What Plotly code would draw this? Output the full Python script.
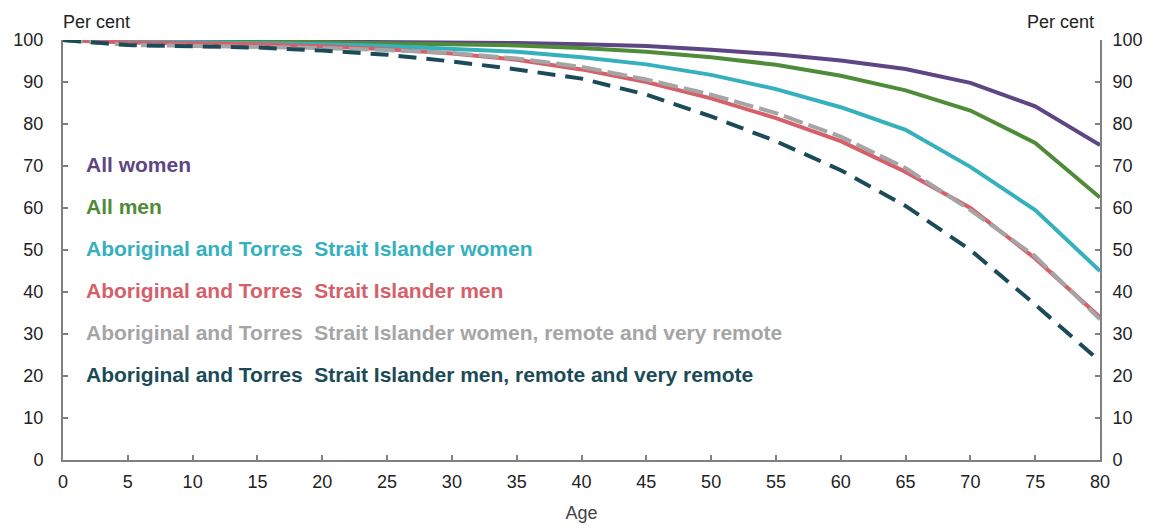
import plotly.graph_objects as go

ages = [0, 5, 10, 15, 20, 25, 30, 35, 40, 45, 50, 55, 60, 65, 70, 75, 80]

all_women = [100, 99.9, 99.9, 99.8, 99.7, 99.6, 99.5, 99.3, 99.0, 98.6, 97.7, 96.6, 95.1, 93.1, 89.8, 84.2, 75.0]
all_men = [100, 99.8, 99.8, 99.7, 99.5, 99.3, 99.1, 98.7, 98.1, 97.2, 95.9, 94.1, 91.5, 88.0, 83.2, 75.5, 62.5]
atsi_women = [100, 99.6, 99.5, 99.3, 99.0, 98.6, 98.0, 97.2, 95.9, 94.2, 91.7, 88.3, 84.0, 78.6, 69.8, 59.5, 45.0]
atsi_men = [100, 99.4, 99.2, 99.0, 98.5, 97.8, 96.8, 95.3, 93.0, 90.0, 86.1, 81.4, 75.9, 68.6, 60.0, 48.0, 34.0]
atsi_women_remote = [100, 98.8, 98.6, 98.4, 98.1, 97.6, 96.9, 95.6, 93.6, 90.6, 87.0, 82.6, 77.0, 69.5, 59.5, 48.5, 33.5]
atsi_men_remote = [100, 98.8, 98.5, 98.2, 97.5, 96.5, 94.9, 93.0, 90.8, 87.0, 81.8, 75.9, 69.0, 60.5, 50.0, 37.0, 23.5]

series_names = [
    "All women",
    "All men",
    "Aboriginal and Torres  Strait Islander women",
    "Aboriginal and Torres  Strait Islander men",
    "Aboriginal and Torres  Strait Islander women, remote and very remote",
    "Aboriginal and Torres  Strait Islander men, remote and very remote",
]
series_values = [all_women, all_men, atsi_women, atsi_men, atsi_women_remote, atsi_men_remote]
colors = ["#5E4685", "#4F8C3A", "#35B0BD", "#D5606A", "#A5A5A5", "#1B4B58"]
dashes = ["solid", "solid", "solid", "solid", "20px,6px", "18px,10px"]
label_y = [70, 60, 50, 40, 30, 20]

fig = go.Figure()
for name, vals, col, dash in zip(series_names, series_values, colors, dashes):
    fig.add_trace(go.Scatter(x=ages, y=vals, mode="lines", name=name,
                             line=dict(color=col, width=4, dash=dash),
                             showlegend=False))
# invisible trace for right axis
fig.add_trace(go.Scatter(x=ages, y=all_women, yaxis="y2", mode="lines",
                         line=dict(width=0), opacity=0, showlegend=False,
                         hoverinfo="skip"))

for name, col, ly in zip(series_names, colors, label_y):
    fig.add_annotation(x=0, y=ly + 0.3, xref="x", yref="y", xshift=21,
                       text="<b>" + name + "</b>", showarrow=False,
                       xanchor="left", yanchor="middle",
                       font=dict(family="Liberation Sans, Arial", size=21, color=col))

txt_font = dict(family="Liberation Sans, Arial", size=18, color="#222")
fig.add_annotation(x=0, y=1, xref="paper", yref="paper", text="Per cent",
                   showarrow=False, xanchor="left", yanchor="bottom", yshift=6, xshift=-2,
                   font=txt_font)
fig.add_annotation(x=1, y=1, xref="paper", yref="paper", text="Per cent",
                   showarrow=False, xanchor="right", yanchor="bottom", yshift=6, xshift=-4,
                   font=txt_font)

axis_font = dict(family="Liberation Sans, Arial", size=18, color="#222")
common = dict(showgrid=False, zeroline=False, showline=True, linecolor="#808080", linewidth=2,
              ticks="inside", ticklen=5, tickwidth=1.5, tickcolor="#808080", tickfont=axis_font,
              automargin=False)
fig.update_layout(
    width=1150, height=520,
    margin=dict(l=55, r=58, t=32, b=68),
    paper_bgcolor="white", plot_bgcolor="white",
    xaxis=dict(range=[0, 80], tickmode="array", tickvals=list(range(0, 81, 5)),
               ticklabelstandoff=4,
               title=dict(text="Age", font=dict(family="Liberation Sans, Arial", size=18, color="#444"), standoff=16),
               **common),
    yaxis=dict(range=[0, 100], tickvals=list(range(0, 101, 10)), ticklabelstandoff=14, **common),
    yaxis2=dict(range=[0, 100], tickvals=list(range(0, 101, 10)), overlaying="y", side="right",
                ticklabelstandoff=7, **common),
)

fig.write_html("out.html")
